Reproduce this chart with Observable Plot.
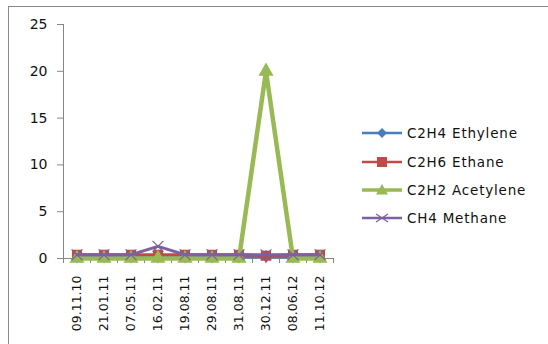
<!DOCTYPE html>
<html>
<head>
<meta charset="utf-8">
<script src="https://cdn.jsdelivr.net/npm/d3@7"></script>
<script src="https://cdn.jsdelivr.net/npm/@observablehq/plot@0.6"></script>
<style>
  html, body { margin: 0; padding: 0; background: #fff; }
  #wrap { position: relative; width: 548px; height: 344px; overflow: hidden; font-family: "DejaVu Sans", sans-serif; }
  #border { position: absolute; left: 8px; top: 6px; width: 560px; height: 360px; border-top: 1.5px solid #8a8a8a; border-left: 1.5px solid #8a8a8a; box-sizing: border-box; }
  #chart { position: absolute; left: 0; top: 0; }
  #legend { position: absolute; left: 360px; top: 124px; }
  .row { position: absolute; left: 0; height: 18px; display: flex; align-items: center; white-space: nowrap; }
  .row span { font-size: 13.5px; letter-spacing: 0.8px; color: #111; margin-left: 3px; }
</style>
</head>
<body>
<div id="wrap">
  <div id="border"></div>
  <div id="chart"></div>
  <div id="legend"></div>
</div>
<script>
// Sampling dates (category axis)
const dates = ["09.11.10", "21.01.11", "07.05.11", "16.02.11", "19.08.11",
               "29.08.11", "31.08.11", "30.12.11", "08.06.12", "11.10.12"];

// Dissolved gas concentrations per sample
const ethylene  = [0.2, 0.2, 0.2, 0.2, 0.2, 0.2, 0.2, 0.2, 0.2, 0.2];
const ethane    = [0.4, 0.4, 0.4, 0.4, 0.4, 0.4, 0.4, 0.3, 0.4, 0.4];
const acetylene = [0, 0, 0, 0, 0, 0, 0, 20, 0, 0];
const methane   = [0.4, 0.4, 0.4, 1.3, 0.4, 0.4, 0.4, 0.4, 0.4, 0.4];

const yTicks = [0, 5, 10, 15, 20, 25];

const series = [
  {name: "C2H4 Ethylene",  values: ethylene,  color: "#4a7ebb", symbol: "diamond", r: 4.2, width: 3},
  {name: "C2H6 Ethane",    values: ethane,    color: "#be4b48", symbol: "square",  r: 5.7, width: 3},
  {name: "C2H2 Acetylene", values: acetylene, color: "#98b954", symbol: "triangle", r: 5.6, width: 4.5},
  {name: "CH4 Methane",    values: methane,   color: "#7d60a0", symbol: "times",   r: 5, width: 3}
];

const rows = series.flatMap(s => dates.map((d, i) => ({date: d, value: s.values[i], name: s.name})));

const marks = [];
for (const s of series) {
  const data = rows.filter(r => r.name === s.name);
  marks.push(Plot.line(data, {x: "date", y: "value", stroke: s.color, strokeWidth: s.width, strokeLinejoin: "round"}));
  if (s.symbol === "times") {
    marks.push(Plot.dot(data, {x: "date", y: "value", symbol: "times", r: s.r, stroke: s.color, strokeWidth: 1.2}));
  } else {
    marks.push(Plot.dot(data, {x: "date", y: "value", symbol: s.symbol, r: s.r, fill: s.color, stroke: "none"}));
  }
}

const bw = 27; // band width in px (270px plot width / 10 categories)

const chart = Plot.plot({
  width: 548,
  height: 344,
  marginLeft: 63,
  marginRight: 215,
  marginTop: 24,
  marginBottom: 86,
  style: {fontFamily: "DejaVu Sans, sans-serif", color: "#111", background: "transparent"},
  x: {type: "band", domain: dates, padding: 0, label: null},
  y: {domain: [0, 25], label: null},
  marks: [
    Plot.frame({anchor: "left", stroke: "#868686"}),
    Plot.ruleY([0], {stroke: "#868686"}),
    Plot.axisY({ticks: yTicks, tickSize: 6, tickPadding: 10, fontSize: 14, stroke: "#868686", label: null}),
    Plot.axisX({ticks: dates, tickSize: 5, text: null, dx: -bw / 2, stroke: "#868686", label: null}),
    Plot.axisX({ticks: dates.slice(-1), tickSize: 5, text: null, dx: bw / 2, stroke: "#868686", label: null}),
    Plot.axisX({ticks: dates, tickSize: 0, tickPadding: 17, tickRotate: -90, fontSize: 12.5, label: null}),
    ...marks
  ]
});
document.getElementById("chart").appendChild(chart);

// Legend: line sample with marker, then the series name
const legend = document.getElementById("legend");
const rowTops = [0, 29, 57, 85];
const symbolPaths = {
  diamond: "M0,-5L5,0L0,5L-5,0Z",
  square: "M-5,-5H5V5H-5Z",
  triangle: "M0,-6L6,4.5H-6Z",
  times: "M-6,-4L6,4M-6,4L6,-4"
};
series.forEach((s, i) => {
  const row = document.createElement("div");
  row.className = "row";
  row.style.top = rowTops[i] + "px";
  const ns = "http://www.w3.org/2000/svg";
  const svg = document.createElementNS(ns, "svg");
  svg.setAttribute("width", 44);
  svg.setAttribute("height", 18);
  const line = document.createElementNS(ns, "line");
  line.setAttribute("x1", 2); line.setAttribute("x2", 42);
  line.setAttribute("y1", 9); line.setAttribute("y2", 9);
  line.setAttribute("stroke", s.color);
  line.setAttribute("stroke-width", s.symbol === "triangle" ? 3.5 : 2.5);
  svg.appendChild(line);
  const p = document.createElementNS(ns, "path");
  p.setAttribute("d", symbolPaths[s.symbol]);
  p.setAttribute("transform", "translate(22,9)");
  if (s.symbol === "times") {
    p.setAttribute("fill", "none");
    p.setAttribute("stroke", s.color);
    p.setAttribute("stroke-width", 1.3);
  } else {
    p.setAttribute("fill", s.color);
  }
  svg.appendChild(p);
  row.appendChild(svg);
  const label = document.createElement("span");
  label.textContent = s.name;
  row.appendChild(label);
  legend.appendChild(row);
});
</script>
</body>
</html>
